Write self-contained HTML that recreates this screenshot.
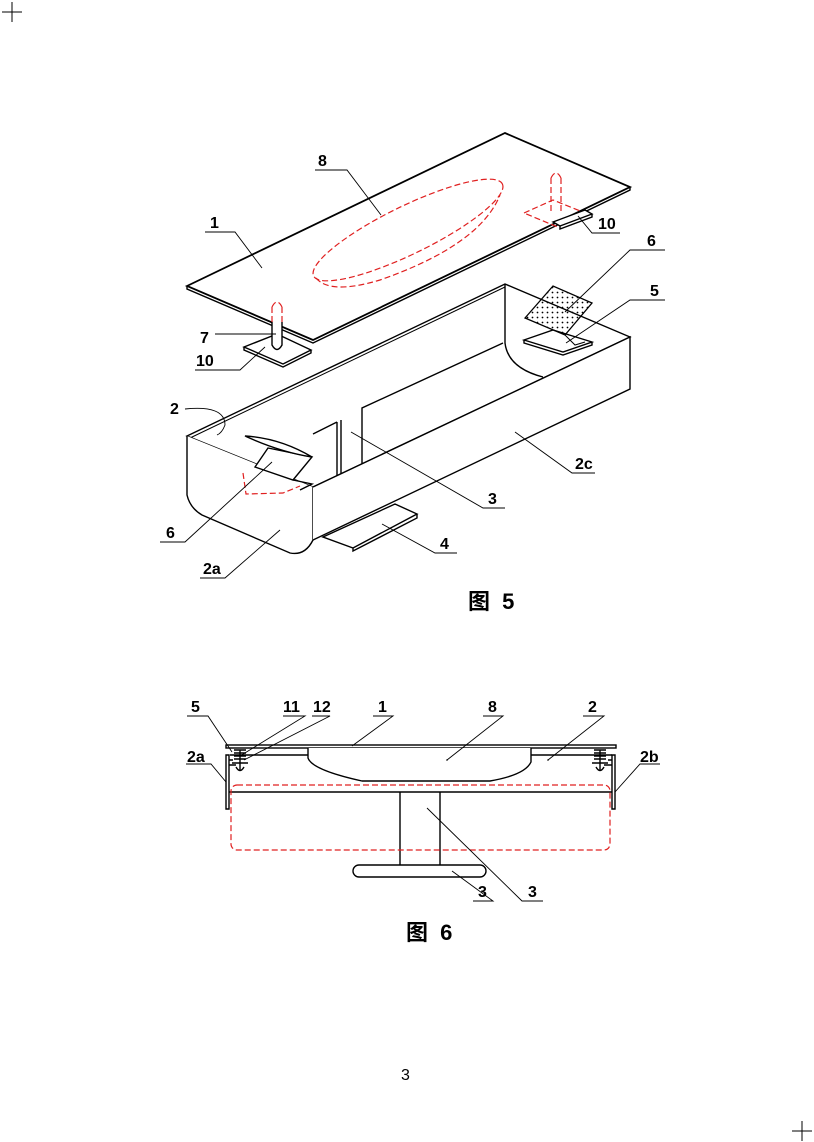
<!DOCTYPE html>
<html><head><meta charset="utf-8"><style>
html,body{margin:0;padding:0;background:#fff;}
svg{display:block;}
text{font-family:"Liberation Sans",Arial,sans-serif;font-weight:bold;font-size:16px;fill:#000;}
.cj{font-family:"Liberation Sans","Noto Sans CJK SC",sans-serif;font-size:22px;font-weight:bold;letter-spacing:3px;}
</style></head><body>
<svg width="814" height="1142" viewBox="0 0 814 1142" xmlns="http://www.w3.org/2000/svg">
<g stroke="#000" stroke-width="1" fill="none">
<path d="M2 12H22M12 2V22M792 1131H812M802 1121V1141"/>
</g>
<!-- FIGURE 5 -->
<g stroke="#000" fill="none" stroke-width="1.8">
<path d="M187 286L505 133L630 187L313 340Z" fill="#fff"/>
<path d="M187 286L187 289L313 343L630 190L630 187" stroke-width="1.4"/>
</g>
<g stroke="#e02020" stroke-width="1.2" fill="none" stroke-dasharray="6,3">
<ellipse cx="408" cy="230" rx="105" ry="24" transform="rotate(-26 408 230)"/>
<path d="M316 278 Q330 295 380 280 Q480 245 500 195"/>
<path d="M551 178V212M561 178V212M551 178Q556 168 561 178"/>
<path d="M524 213L553 200L590 215L560 228Z"/>
<path d="M272 307V322M282 307V322M272 307Q277 297 282 307"/>
</g>
<g stroke="#000" fill="none" stroke-width="1.4">
<path d="M553 222L585 210L592 214L560 226Z M560 226V229L592 217V214" fill="#fff"/>
<path d="M244 347L277 334L311 350L283 364Z M244 347V350L283 367L311 353V350" fill="#fff"/>
<path d="M272 322V345Q277 354 282 345V322" fill="#fff"/>
<path d="M187 436L505 284L630 337L313 487Z" fill="#fff"/>
<path d="M190 438L505 287M316 489L630 340M190 438L313 489" stroke-width="1"/>
<path d="M505 284V343Q508 368 543 377"/>
<path d="M503 343L362 408V467"/>
<path d="M337 422V478M341 420V476M313 434L337 422"/>
<path d="M187 436V495Q190 508 202 515L290 553Q305 556 313 540V487" fill="#fff"/>
<path d="M313 487L630 337V389L313 540" fill="#fff"/>
<path d="M323 537L395 504L417 514L353 548Z M353 548V551L417 518V514" fill="#fff"/>
</g>
<path d="M243 473L246 494L283 493L300 486" stroke="#e02020" stroke-width="1.2" fill="none" stroke-dasharray="6,3"/>
<g stroke="#000" fill="none" stroke-width="1.4">
<path d="M268 448L312 457L293 480L255 467Z" fill="#fff"/>
<path d="M245 436Q280 438 312 457Q280 452 245 436Z" fill="#fff"/>
<path d="M293 480L312 484L300 490"/>
<path d="M524 340L553 330L592 342L563 352Z M524 340V343L563 355L592 345V342" fill="#fff"/>
</g>
<defs><pattern id="dots" width="5" height="5" patternUnits="userSpaceOnUse"><circle cx="2.5" cy="2.5" r="0.9" fill="#000"/></pattern></defs>
<path d="M525 318L553 286L592 303L565 335Z" fill="url(#dots)" stroke="#000" stroke-width="1.3"/>
<path d="M565 335L575 345L585 342" stroke="#000" fill="none"/>
<g stroke="#000" stroke-width="0.9" fill="none">
<path d="M315 170H347L381 215"/>
<path d="M205 232H235L262 268"/>
<path d="M620 233H592L578 216"/>
<path d="M215 334H276"/>
<path d="M195 370H240L265 347"/>
<path d="M665 250H630L565 312"/>
<path d="M665 300H630L566 343"/>
<path d="M185 409Q225 405 225 425Q222 433 217 435"/>
<path d="M160 542H185L272 462"/>
<path d="M200 578H225L280 530"/>
<path d="M505 508H483L351 432"/>
<path d="M595 473H572L515 432"/>
<path d="M457 553H435L382 524"/>
</g>
<g>
<text x="318" y="166">8</text><text x="210" y="228">1</text><text x="598" y="229">10</text>
<text x="200" y="343">7</text><text x="196" y="366">10</text><text x="647" y="246">6</text>
<text x="650" y="296">5</text><text x="170" y="414">2</text><text x="166" y="538">6</text>
<text x="203" y="574">2a</text><text x="488" y="504">3</text><text x="575" y="469">2c</text>
<text x="440" y="549">4</text>
</g>
<text class="cj" x="468" y="609">图 5</text>

<!-- FIGURE 6 -->
<g stroke="#000" fill="none" stroke-width="1.4">
<rect x="226" y="745" width="390" height="3" fill="#fff"/>
<path d="M230 755H308M531 755H612"/>
<path d="M308 748V758Q312 770 362 781H490Q525 775 531 762V748" fill="#fff"/>
<path d="M226 755V809H229V755Z M612 755V809H615V755Z"/>
<path d="M229 792H612"/>
<path d="M400 792V866M440 792V866"/>
<rect x="353" y="865" width="133" height="12" rx="6" fill="#fff"/>
<path d="M234 750H246M234 753H246M234 756H246M234 759H246M232 763H248M240 750V770"/>
<path d="M236 767Q240 774 244 767"/>
<path d="M229 765H236M229 760H233"/>
<path d="M594 750H606M594 753H606M594 756H606M594 759H606M592 763H608M600 750V770"/>
<path d="M596 767Q600 774 604 767"/>
<path d="M604 765H612M608 760H612"/>
</g>
<rect x="231" y="785" width="379" height="65" rx="6" stroke="#e02020" stroke-width="1.2" fill="none" stroke-dasharray="6,3"/>
<g stroke="#000" stroke-width="0.9" fill="none">
<path d="M187 716H208L232 752"/>
<path d="M283 716H305L240 756"/>
<path d="M312 716H330L244 760"/>
<path d="M373 716H393L352 746"/>
<path d="M483 716H503L447 760"/>
<path d="M583 716H604L548 760"/>
<path d="M186 764H211L226 782"/>
<path d="M660 764H640L615 792"/>
<path d="M473 901H493L452 871"/>
<path d="M543 901H522L427 808"/>
</g>
<g>
<text x="191" y="712">5</text><text x="283" y="712">11</text><text x="313" y="712">12</text>
<text x="378" y="712">1</text><text x="488" y="712">8</text><text x="588" y="712">2</text>
<text x="187" y="762">2a</text><text x="640" y="762">2b</text>
<text x="478" y="897">3</text><text x="528" y="897">3</text>
</g>
<circle cx="447" cy="760" r="0.8" fill="#000"/><circle cx="548" cy="760" r="0.8" fill="#000"/>
<text class="cj" x="406" y="940">图 6</text>
<text x="401" y="1080" style="font-weight:normal;font-size:16px">3</text>
</svg>
</body></html>
